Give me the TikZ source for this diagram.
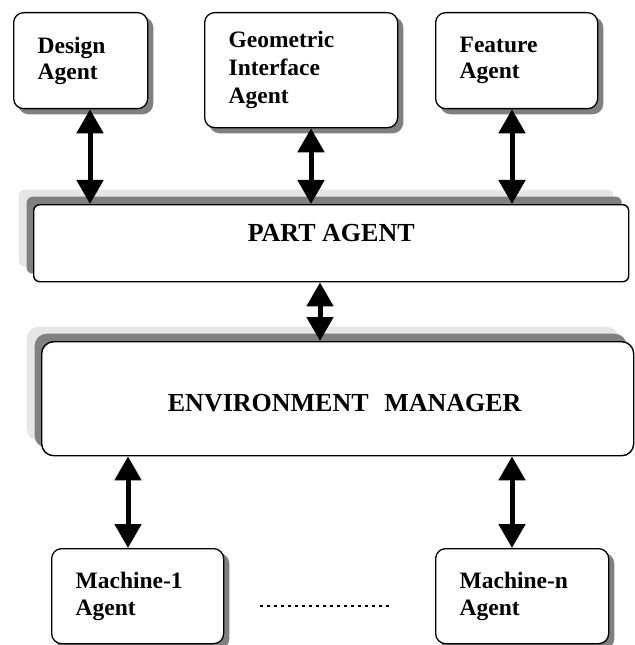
\documentclass[tikz,border=0pt]{standalone}
\usepackage{fontspec}
\setmainfont{Liberation Serif}
\usetikzlibrary{arrows.meta}
\definecolor{shadowdark}{HTML}{808080}
\definecolor{shadowlight}{HTML}{E6E6E6}
\tikzset{
  agentbox/.style={draw, line width=1.3bp, rounded corners=10bp, fill=white,
    align=left, inner xsep=24bp, inner ysep=0bp, anchor=north west,
    font=\bfseries\fontsize{23.5bp}{27bp}\selectfont,
    preaction={fill=shadowdark, draw=shadowdark, line width=1.3bp,
      transform canvas={xshift=5bp,yshift=-5bp}}},
  bigbox/.style={draw, line width=1.4bp, fill=white, anchor=north west,
    inner sep=0bp,
    preaction={fill=shadowlight, transform canvas={xshift=-15bp,yshift=15bp}},
    preaction={fill=shadowdark, transform canvas={xshift=-7bp,yshift=8bp}}},
  bigtext/.style={font=\bfseries\fontsize{26bp}{30bp}\selectfont, inner sep=0bp},
  biarrow/.style={line width=5bp, {Triangle[length=24bp,width=26bp]}-{Triangle[length=24bp,width=26bp]}}
}
\begin{document}
\begin{tikzpicture}[x=1bp,y=-1bp]
\useasboundingbox (0,0) rectangle (635,645);

% top agents
\node[agentbox, text width=86bp, minimum height=96bp, font=\bfseries\fontsize{23.5bp}{26bp}\selectfont] (design) at (13,12) {Design\\Agent};
\node[agentbox, text width=145bp, minimum height=115bp, font=\bfseries\fontsize{23.5bp}{28bp}\selectfont] (geom) at (204,12) {Geometric\\Interface\\Agent};
\node[agentbox, text width=114bp, minimum height=96bp, font=\bfseries\fontsize{23.5bp}{26bp}\selectfont] (feature) at (435,12) {Feature\\Agent};

% part agent
\node[bigbox, rounded corners=6bp, minimum width=595bp, minimum height=77bp] (part) at (33,204) {};
\node[bigtext] (parttxt) at ([yshift=10.5bp]part.center) {PART AGENT};

% environment manager
\node[bigbox, rounded corners=12bp, minimum width=592bp, minimum height=114bp] (env) at (41,341) {};
\node[bigtext] (envtxt) at ([xshift=7bp,yshift=-4bp]env.center) {ENVIRONMENT\hspace{0.6em}MANAGER};

% machines
\node[agentbox, text width=124bp, minimum height=95bp] (m1) at (51,548) {Machine-1\\Agent};
\node[agentbox, text width=125bp, minimum height=95bp] (mn) at (435,548) {Machine-n\\Agent};

% arrows
\draw[biarrow] (design.south -| 90,0) -- (part.north -| 90,0);
\draw[biarrow] (geom.south -| 311,0) -- (part.north -| 311,0);
\draw[biarrow] (feature.south -| 512,0) -- (part.north -| 512,0);
\draw[biarrow] (part.south -| 320,0) -- (env.north -| 320,0);
\draw[biarrow] (env.south -| 128,0) -- (m1.north -| 128,0);
\draw[biarrow] (env.south -| 512,0) -- (mn.north -| 512,0);

% dots between machines
\coordinate (dotsA) at (260,606);
\coordinate (dotsB) at (393,606);
\draw[line width=2bp, dash pattern=on 3bp off 4bp] (dotsA) -- (dotsB);
\end{tikzpicture}
\end{document}
